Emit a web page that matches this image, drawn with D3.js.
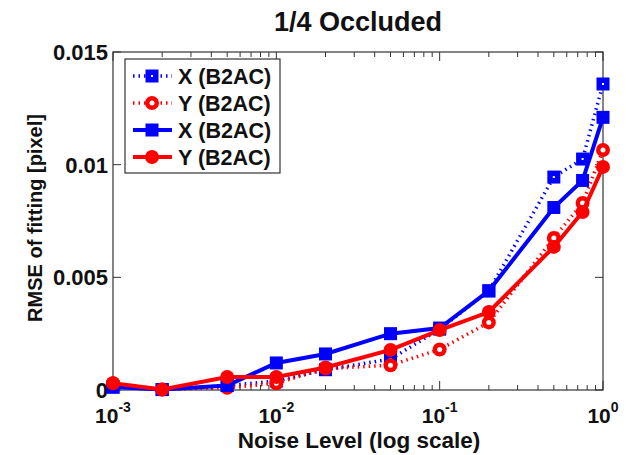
<!DOCTYPE html>
<html><head><meta charset="utf-8">
<script src="https://cdn.jsdelivr.net/npm/d3@7"></script>
<style>body{margin:0;background:#fff}svg{display:block}text{font-family:Arial,"Liberation Sans",sans-serif}</style>
</head><body>
<script>
const noise = [0.001,0.002,0.005,0.01,0.02,0.05,0.1,0.2,0.5,0.75,1];
const xDotted = [0.00013,0.00002,0.0002,0.0004,0.0009,0.00137,0.0027,0.0044,0.00945,0.01025,0.01358];
const yDotted = [0.0003,0.00002,0.0001,0.0003,0.00095,0.0011,0.0018,0.003,0.00675,0.0083,0.01065];
const xSolid = [0.00013,0.00002,0.0002,0.0012,0.0016,0.0025,0.00275,0.0044,0.0081,0.0093,0.0121];
const ySolid = [0.0003,0.00002,0.00058,0.00058,0.001,0.00178,0.00266,0.00346,0.00635,0.0079,0.0099];
const seriesNames = ["X (B2AC)","Y (B2AC)","X (B2AC)","Y (B2AC)"];
const yTicks = [0,0.005,0.01,0.015];
const yTickLabels = ["0","0.005","0.01","0.015"];
const xTicks = [0.001,0.01,0.1,1];
const xTickExp = ["-3","-2","-1","0"];
const title = "1/4 Occluded";
const xLabel = "Noise Level (log scale)";
const yLabel = "RMSE of fitting [pixel]";

const W=626,H=455, L=113,R=603,T=52,B=390;
const svg=d3.select("body").append("svg").attr("width",W).attr("height",H);
const x=d3.scaleLog().domain([0.001,1]).range([L,R]);
const y=d3.scaleLinear().domain([0,0.015]).range([B,T]);

// axes box
svg.append("rect").attr("x",L).attr("y",T).attr("width",R-L).attr("height",B-T)
  .attr("fill","none").attr("stroke","#333").attr("stroke-width",1.2);

// x ticks (major & minor) on bottom and top, inward
const minor=[];
for(let e=-3;e<0;e++) for(let k=2;k<=9;k++) minor.push(k*Math.pow(10,e));
const g=svg.append("g").attr("stroke","#333").attr("stroke-width",1);
minor.forEach(v=>{
  g.append("line").attr("x1",x(v)).attr("x2",x(v)).attr("y1",B).attr("y2",B-5);
  g.append("line").attr("x1",x(v)).attr("x2",x(v)).attr("y1",T).attr("y2",T+5);
});
xTicks.forEach(v=>{
  g.append("line").attr("x1",x(v)).attr("x2",x(v)).attr("y1",B).attr("y2",B-9);
  g.append("line").attr("x1",x(v)).attr("x2",x(v)).attr("y1",T).attr("y2",T+9);
});
yTicks.forEach(v=>{
  g.append("line").attr("x1",L).attr("x2",L+8).attr("y1",y(v)).attr("y2",y(v));
  g.append("line").attr("x1",R).attr("x2",R-8).attr("y1",y(v)).attr("y2",y(v));
});

// y tick labels
yTicks.forEach((v,i)=>{
  svg.append("text").attr("x",L-5).attr("y",y(v)+8).attr("text-anchor","end")
    .attr("font-size",22).attr("font-weight","bold").attr("fill","#111").text(yTickLabels[i]);
});
// x tick labels
xTicks.forEach((v,i)=>{
  const t=svg.append("text").attr("x",x(v)).attr("y",423).attr("text-anchor","middle")
    .attr("font-weight","bold").attr("fill","#111");
  t.append("tspan").attr("font-size",21).text("10");
  t.append("tspan").attr("font-size",14).attr("dy",-11).text(xTickExp[i]);
});

// title & labels
svg.append("text").attr("x",358).attr("y",31).attr("text-anchor","middle")
  .attr("font-size",27).attr("font-weight","bold").attr("fill","#111").text(title);
svg.append("text").attr("x",359).attr("y",448).attr("text-anchor","middle")
  .attr("font-size",22.5).attr("font-weight","bold").attr("fill","#111").text(xLabel);
svg.append("text").attr("transform","translate(42,218) rotate(-90)").attr("text-anchor","middle")
  .attr("font-size",20).attr("font-weight","bold").attr("fill","#111").text(yLabel);

const blue="#0000ff", red="#ff0000";
const line=d3.line().x(d=>x(d[0])).y(d=>y(d[1]));
const specs=[
  {vals:xDotted,color:blue,dotted:true,marker:"square"},
  {vals:yDotted,color:red,dotted:true,marker:"circle"},
  {vals:xSolid,color:blue,dotted:false,marker:"square"},
  {vals:ySolid,color:red,dotted:false,marker:"circle"}
];
function drawMarker(sel,s,cx,cy){
  if(s.marker==="square"){
    sel.append("rect").attr("x",cx-6.5).attr("y",cy-6.5).attr("width",13).attr("height",13).attr("fill",s.color);
    if(s.dotted) sel.append("rect").attr("x",cx-1).attr("y",cy-1).attr("width",2).attr("height",2).attr("fill","#fff");
  } else {
    sel.append("circle").attr("cx",cx).attr("cy",cy).attr("r",7).attr("fill",s.color);
    if(s.dotted) sel.append("circle").attr("cx",cx).attr("cy",cy).attr("r",2.5).attr("fill","#fff");
  }
}
specs.forEach(s=>{
  const data=noise.map((n,i)=>[n,s.vals[i]]);
  svg.append("path").attr("d",line(data)).attr("fill","none").attr("stroke",s.color)
    .attr("stroke-width",s.dotted?3.5:4).attr("stroke-dasharray",s.dotted?"1.5,4":null);
  const mg=svg.append("g");
  data.forEach(d=>drawMarker(mg,s,x(d[0]),y(d[1])));
});

// legend
const lg=svg.append("g");
lg.append("rect").attr("x",125).attr("y",59).attr("width",155).attr("height",114)
  .attr("fill","#fff").attr("stroke","#333").attr("stroke-width",1.2);
specs.forEach((s,i)=>{
  const ly=76+i*27;
  lg.append("line").attr("x1",133).attr("x2",172).attr("y1",ly).attr("y2",ly)
    .attr("stroke",s.color).attr("stroke-width",s.dotted?3.5:4).attr("stroke-dasharray",s.dotted?"1.5,4":null);
  drawMarker(lg,s,152,ly);
  lg.append("text").attr("x",178).attr("y",ly+8).attr("font-size",21.5).attr("font-weight","bold")
    .attr("fill","#111").text(seriesNames[i]);
});
</script>
</body></html>
